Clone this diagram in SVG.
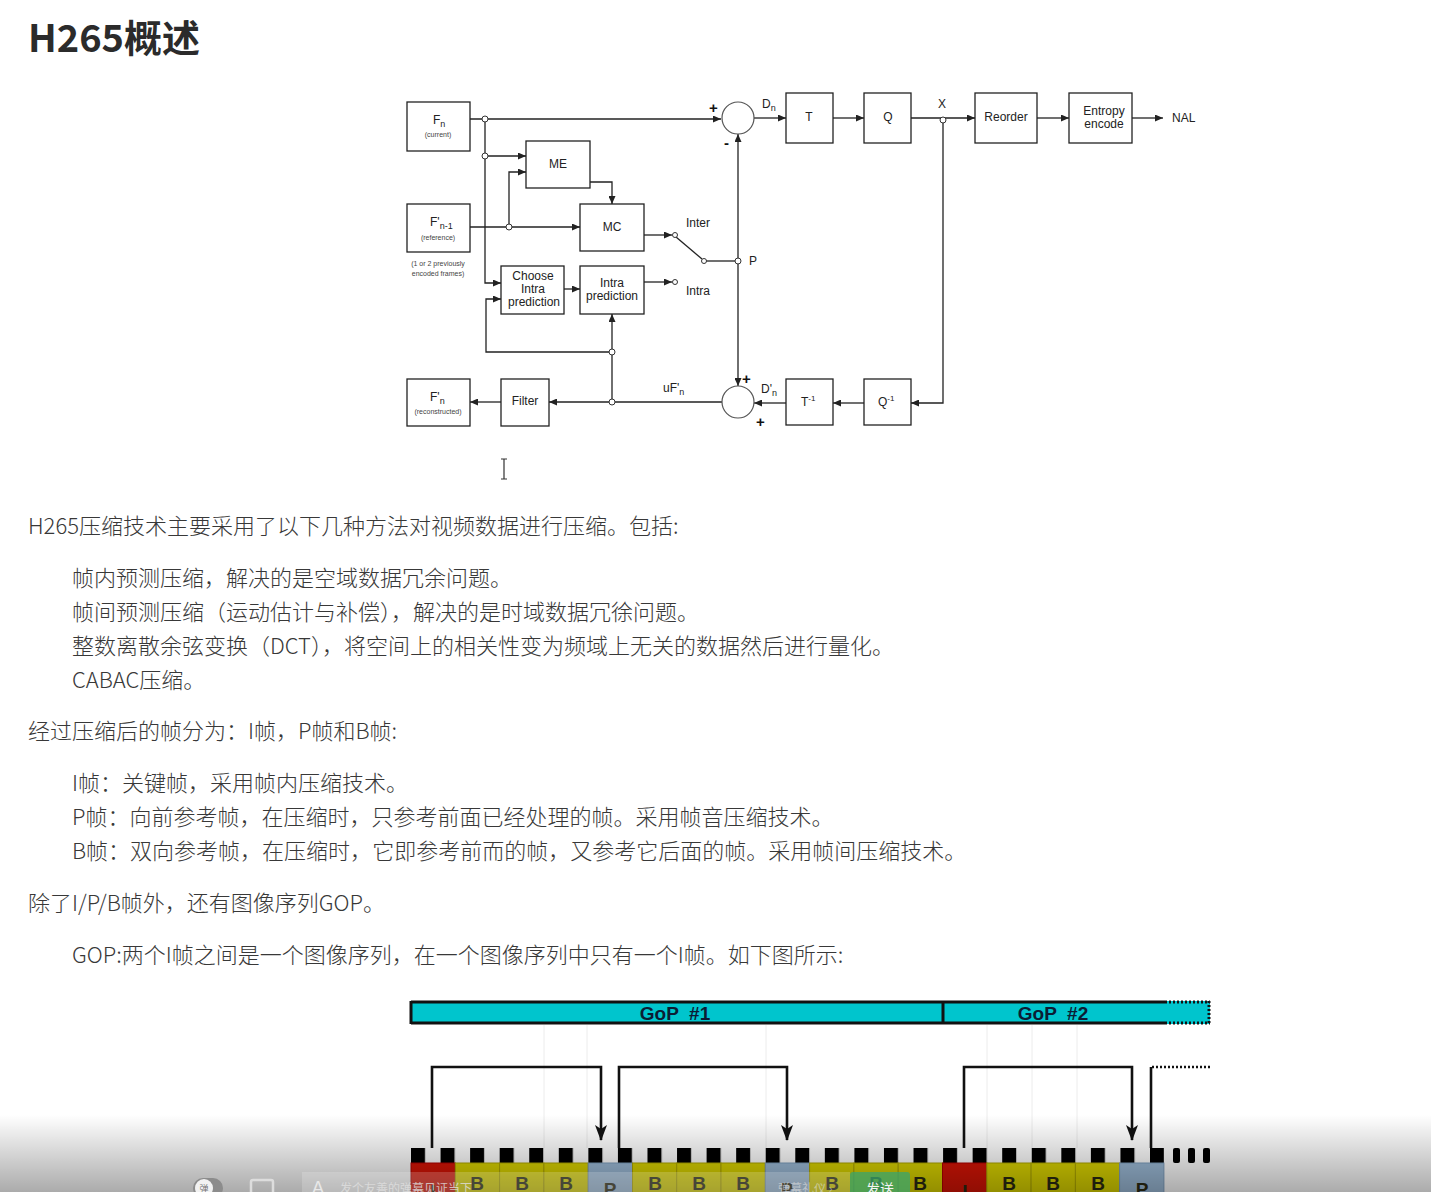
<svg xmlns="http://www.w3.org/2000/svg" width="1431" height="1192" viewBox="0 0 1431 1192">
<defs>
<style>
.box{fill:#fff;stroke:#222;stroke-width:1.3}
.ln{fill:none;stroke:#222;stroke-width:1.3}
.arr{fill:none;stroke:#222;stroke-width:1.3;marker-end:url(#ah)}
.jn{fill:#fff;stroke:#333;stroke-width:1}
.lb{font-family:"Liberation Sans",Arial,sans-serif;font-size:12px;fill:#222}
.sm{font-family:"Liberation Sans",Arial,sans-serif;font-size:7px;fill:#444}
.sub{font-size:9px}
.pm{font-family:"Liberation Sans",Arial,sans-serif;font-size:15px;font-weight:bold;fill:#111}
.tx{font-family:"Noto Sans CJK SC","Noto Sans",sans-serif;font-size:22px;font-weight:300;fill:#383838}
.gop{font-family:"Liberation Sans",Arial,sans-serif;font-size:19px;font-weight:bold;fill:#0b1d35}
.fl{font-family:"Liberation Sans",Arial,sans-serif;font-size:19px;font-weight:bold;fill:#2b2a12;text-anchor:middle}
.cB{fill:#dcd500;stroke:#b0a800;stroke-width:1}
.cP{fill:#9dbcd9;stroke:#7f9fbf;stroke-width:1}
.cI{fill:#d81405;stroke:#b00000;stroke-width:1}
.br{fill:none;stroke:#111;stroke-width:2.6}
</style>
<marker id="ah" markerUnits="userSpaceOnUse" markerWidth="8" markerHeight="7" refX="8" refY="3.5" orient="auto"><path d="M0,0 L8,3.5 L0,7 z" fill="#222"/></marker>
<marker id="ah2" markerUnits="userSpaceOnUse" markerWidth="16" markerHeight="12" refX="15" refY="6" orient="auto" viewBox="0 0 16 12"><path d="M0,0 L16,6 L0,12 L4,6 z" fill="#111"/></marker>
<pattern id="chk" patternUnits="userSpaceOnUse" x="411" y="1148" width="29.56" height="15"><rect width="14" height="15" fill="#000"/></pattern>
<linearGradient id="shade" x1="0" y1="0" x2="0" y2="1"><stop offset="0" stop-color="#000" stop-opacity="0"/><stop offset="1" stop-color="#000" stop-opacity="0.33"/></linearGradient>
</defs>
<rect width="1431" height="1192" fill="#fff"/>

<text x="28" y="52" font-family="'Noto Sans CJK SC','Noto Sans',sans-serif" font-size="38" font-weight="bold" fill="#2b2b2b">H265概述</text>

<!-- connectors -->
<g id="connectors">
<path class="arr" d="M470,119 H721"/>
<path class="arr" d="M485,119 V283 H501"/>
<path class="arr" d="M485,156 H526"/>
<path class="arr" d="M470,227 H580"/>
<path class="arr" d="M509,227 V172 H526"/>
<path class="arr" d="M590,182 H612 V204"/>
<path class="arr" d="M644,235 H672"/>
<path class="ln" d="M676,237 L702,259"/>
<path class="ln" d="M706,261 H738"/>
<path class="arr" d="M644,282 H672"/>
<path class="arr" d="M564,289 H580"/>
<path class="arr" d="M738,261 V134"/>
<path class="arr" d="M738,261 V386"/>
<path class="arr" d="M754,118 H786"/>
<path class="arr" d="M833,118 H864"/>
<path class="arr" d="M911,118 H975"/>
<path class="arr" d="M1037,118 H1069"/>
<path class="arr" d="M1132,118 H1163"/>
<path class="arr" d="M943,118 V403 H911"/>
<path class="arr" d="M864,403 H833"/>
<path class="arr" d="M786,403 H754"/>
<path class="arr" d="M722,402 H549"/>
<path class="arr" d="M501,402 H470"/>
<path class="arr" d="M612,402 V314"/>
<path class="arr" d="M612,352 H486 V299 H501"/>
<circle class="jn" cx="485" cy="119" r="3"/>
<circle class="jn" cx="485" cy="156" r="3"/>
<circle class="jn" cx="509" cy="227" r="3"/>
<circle class="jn" cx="612" cy="352" r="3"/>
<circle class="jn" cx="612" cy="402" r="3"/>
<circle class="jn" cx="738" cy="261" r="3"/>
<circle class="jn" cx="943" cy="120" r="3"/>
<circle class="jn" cx="675" cy="235" r="2.5"/>
<circle class="jn" cx="675" cy="282" r="2.5"/>
<circle class="jn" cx="704" cy="261" r="2.5"/>
<text class="pm" x="709" y="113">+</text>
<text class="pm" x="724" y="148">-</text>
<text class="pm" x="742" y="384">+</text>
<text class="pm" x="756" y="427">+</text>
<text class="lb" x="762" y="108">D<tspan class="sub" dy="3">n</tspan></text>
<text class="lb" x="938" y="108">X</text>
<text class="lb" x="1172" y="122">NAL</text>
<text class="lb" x="686" y="227">Inter</text>
<text class="lb" x="686" y="295">Intra</text>
<text class="lb" x="749" y="265">P</text>
<text class="lb" x="663" y="392">uF'<tspan class="sub" dy="3">n</tspan></text>
<text class="lb" x="761" y="393">D'<tspan class="sub" dy="3">n</tspan></text>
</g>

<g id="node-fn"><rect class="box" x="407" y="102" width="63" height="49"/><text class="lb" x="433" y="124">F<tspan class="sub" dy="3">n</tspan></text><text class="sm" x="438" y="137" text-anchor="middle">(current)</text></g>
<g id="node-fref"><rect class="box" x="407" y="204" width="63" height="48"/><text class="lb" x="430" y="226">F'<tspan class="sub" dy="3">n-1</tspan></text><text class="sm" x="438" y="240" text-anchor="middle">(reference)</text></g>
<g id="note-prev"><text class="sm" x="438" y="266" text-anchor="middle">(1 or 2 previously</text><text class="sm" x="438" y="276" text-anchor="middle">encoded frames)</text></g>
<g id="node-me"><rect class="box" x="526" y="141" width="64" height="47"/><text class="lb" x="558" y="168" text-anchor="middle">ME</text></g>
<g id="node-mc"><rect class="box" x="580" y="204" width="64" height="47"/><text class="lb" x="612" y="231" text-anchor="middle">MC</text></g>
<g id="node-choose"><rect class="box" x="501" y="266" width="63" height="48"/><text class="lb" x="533" y="280" text-anchor="middle">Choose</text><text class="lb" x="533" y="293" text-anchor="middle">Intra</text><text class="lb" x="534" y="306" text-anchor="middle">prediction</text></g>
<g id="node-intra"><rect class="box" x="580" y="266" width="64" height="48"/><text class="lb" x="612" y="287" text-anchor="middle">Intra</text><text class="lb" x="612" y="300" text-anchor="middle">prediction</text></g>
<g id="node-sub"><circle cx="738" cy="118" r="16" fill="#fff" stroke="#555" stroke-width="1.2"/></g>
<g id="node-add"><circle cx="738" cy="402" r="16" fill="#fff" stroke="#555" stroke-width="1.2"/></g>
<g id="node-t"><rect class="box" x="786" y="93" width="47" height="50"/><text class="lb" x="809" y="121" text-anchor="middle">T</text></g>
<g id="node-q"><rect class="box" x="864" y="93" width="47" height="50"/><text class="lb" x="888" y="121" text-anchor="middle">Q</text></g>
<g id="node-reorder"><rect class="box" x="975" y="93" width="62" height="50"/><text class="lb" x="1006" y="121" text-anchor="middle">Reorder</text></g>
<g id="node-entropy"><rect class="box" x="1069" y="93" width="63" height="50"/><text class="lb" x="1104" y="115" text-anchor="middle">Entropy</text><text class="lb" x="1104" y="128" text-anchor="middle">encode</text></g>
<g id="node-frec"><rect class="box" x="407" y="379" width="63" height="47"/><text class="lb" x="430" y="401">F'<tspan class="sub" dy="3">n</tspan></text><text class="sm" x="438" y="414" text-anchor="middle">(reconstructed)</text></g>
<g id="node-filter"><rect class="box" x="501" y="379" width="48" height="47"/><text class="lb" x="525" y="405" text-anchor="middle">Filter</text></g>
<g id="node-tinv"><rect class="box" x="786" y="379" width="47" height="46"/><text class="lb" x="801" y="406">T<tspan font-size="8" dy="-5">-1</tspan></text></g>
<g id="node-qinv"><rect class="box" x="864" y="379" width="47" height="46"/><text class="lb" x="878" y="406">Q<tspan font-size="8" dy="-5">-1</tspan></text></g>

<!-- text cursor -->
<path d="M501,459 H507 M504,459 V479 M501,479 H507" fill="none" stroke="#333" stroke-width="1.2"/>

<g id="body-text">
<text class="tx" x="28" y="534">H265压缩技术主要采用了以下几种方法对视频数据进行压缩。包括:</text>
<text class="tx" x="72" y="586">帧内预测压缩，解决的是空域数据冗余问题。</text>
<text class="tx" x="72" y="620">帧间预测压缩（运动估计与补偿），解决的是时域数据冗徐问题。</text>
<text class="tx" x="72" y="654">整数离散余弦变换（DCT），将空间上的相关性变为频域上无关的数据然后进行量化。</text>
<text class="tx" x="72" y="688">CABAC压缩。</text>
<text class="tx" x="28" y="739">经过压缩后的帧分为：I帧，P帧和B帧:</text>
<text class="tx" x="72" y="791">I帧：关键帧，采用帧内压缩技术。</text>
<text class="tx" x="72" y="825">P帧：向前参考帧，在压缩时，只参考前面已经处理的帧。采用帧音压缩技术。</text>
<text class="tx" x="72" y="859">B帧：双向参考帧，在压缩时，它即参考前而的帧，又参考它后面的帧。采用帧间压缩技术。</text>
<text class="tx" x="28" y="911">除了I/P/B帧外，还有图像序列GOP。</text>
<text class="tx" x="72" y="963">GOP:两个I帧之间是一个图像序列，在一个图像序列中只有一个I帧。如下图所示:</text>
</g>

<!-- GOP figure -->
<g id="gop-figure">
<g stroke="#ececec" stroke-width="1">
<path d="M544,1025 V1148 M587,1025 V1148 M766,1025 V1148 M987,1025 V1148 M1032,1025 V1148 M1077,1025 V1148"/>
</g>
<rect x="410" y="1001" width="800" height="23" fill="#00c5cd"/>
<path d="M411,1002 H1165 M411,1023 H1165 M411,1001 V1024 M943,1001 V1024" stroke="#111" stroke-width="3" fill="none"/>
<path d="M1165,1002 H1210 M1165,1023 H1210 M1209,1001 V1024" stroke="#111" stroke-width="3" stroke-dasharray="2,2" fill="none"/>
<text class="gop" x="675" y="1020" text-anchor="middle" xml:space="preserve">GoP  #1</text>
<text class="gop" x="1053" y="1020" text-anchor="middle" xml:space="preserve">GoP  #2</text>

<path class="br" d="M432,1148 V1067 H601 V1140" marker-end="url(#ah2)"/>
<path class="br" d="M619,1148 V1067 H787 V1140" marker-end="url(#ah2)"/>
<path class="br" d="M964,1148 V1067 H1132 V1140" marker-end="url(#ah2)"/>
<path class="br" d="M1151,1148 V1067"/>
<path d="M1152,1067 H1210" stroke="#111" stroke-width="2.6" stroke-dasharray="2,2" fill="none"/>

<rect x="411" y="1148" width="753" height="15" fill="#fff"/>
<rect x="411" y="1148" width="753" height="15" fill="url(#chk)"/>
<rect x="1173" y="1148" width="7" height="15" rx="2" fill="#000"/>
<rect x="1188" y="1148" width="7" height="15" rx="2" fill="#000"/>
<rect x="1203" y="1148" width="7" height="15" rx="2" fill="#000"/>

<rect class="cI" x="411" y="1163" width="44.3" height="32"/>
<rect class="cB" x="455.3" y="1163" width="44.3" height="32"/>
<rect class="cB" x="499.6" y="1163" width="44.3" height="32"/>
<rect class="cB" x="543.9" y="1163" width="44.3" height="32"/>
<rect class="cP" x="588.2" y="1163" width="44.3" height="32"/>
<rect class="cB" x="632.5" y="1163" width="44.3" height="32"/>
<rect class="cB" x="676.7" y="1163" width="44.3" height="32"/>
<rect class="cB" x="721" y="1163" width="44.3" height="32"/>
<rect class="cP" x="765.3" y="1163" width="44.3" height="32"/>
<rect class="cB" x="809.6" y="1163" width="44.3" height="32"/>
<rect class="cB" x="853.9" y="1163" width="44.3" height="32"/>
<rect class="cB" x="898.2" y="1163" width="44.3" height="32"/>
<rect class="cI" x="942.5" y="1163" width="44.3" height="32"/>
<rect class="cB" x="986.8" y="1163" width="44.3" height="32"/>
<rect class="cB" x="1031.1" y="1163" width="44.3" height="32"/>
<rect class="cB" x="1075.4" y="1163" width="44.3" height="32"/>
<rect class="cP" x="1119.6" y="1163" width="44.3" height="32"/>

<text class="fl" x="433" y="1198" fill="#7a1a10">I</text>
<text class="fl" x="477" y="1190">B</text>
<text class="fl" x="522" y="1190">B</text>
<text class="fl" x="566" y="1190">B</text>
<text class="fl" x="610" y="1196" fill="#1d3350">P</text>
<text class="fl" x="655" y="1190">B</text>
<text class="fl" x="699" y="1190">B</text>
<text class="fl" x="743" y="1190">B</text>
<text class="fl" x="787" y="1196" fill="#1d3350">P</text>
<text class="fl" x="832" y="1190">B</text>
<text class="fl" x="876" y="1190">B</text>
<text class="fl" x="920" y="1190">B</text>
<text class="fl" x="965" y="1198" fill="#7a1a10">I</text>
<text class="fl" x="1009" y="1190">B</text>
<text class="fl" x="1053" y="1190">B</text>
<text class="fl" x="1098" y="1190">B</text>
<text class="fl" x="1142" y="1196" fill="#1d3350">P</text>
</g>

<!-- player overlay at bottom -->
<g id="overlay">
<rect x="0" y="1115" width="1431" height="77" fill="url(#shade)"/>
<rect x="193" y="1178" width="30" height="20" rx="10" fill="#8c8c8c"/>
<circle cx="204" cy="1188" r="9" fill="#f2f2f2"/>
<text x="204" y="1192" font-family="'Noto Sans CJK SC',sans-serif" font-size="9" fill="#777" text-anchor="middle">弹</text>
<rect x="251" y="1180" width="22" height="16" rx="2" fill="none" stroke="#ddd" stroke-width="2.5"/>
<rect x="302" y="1172" width="548" height="24" fill="#fff" fill-opacity="0.18"/>
<text x="312" y="1194" font-family="'Liberation Sans',sans-serif" font-size="18" fill="#e8e8e8">A</text>
<text x="340" y="1193" font-family="'Noto Sans CJK SC',sans-serif" font-size="12" fill="#e0e0e0" fill-opacity="0.8">发个友善的弹幕见证当下</text>
<text x="778" y="1193" font-family="'Noto Sans CJK SC',sans-serif" font-size="12" fill="#e0e0e0" fill-opacity="0.6">弹幕礼仪 ›</text>
<rect x="850" y="1172" width="60" height="24" rx="3" fill="#3aa56c" fill-opacity="0.75"/>
<text x="880" y="1194" font-family="'Noto Sans CJK SC',sans-serif" font-size="14" fill="#f4f4f4" text-anchor="middle">发送</text>
</g>
</svg>
